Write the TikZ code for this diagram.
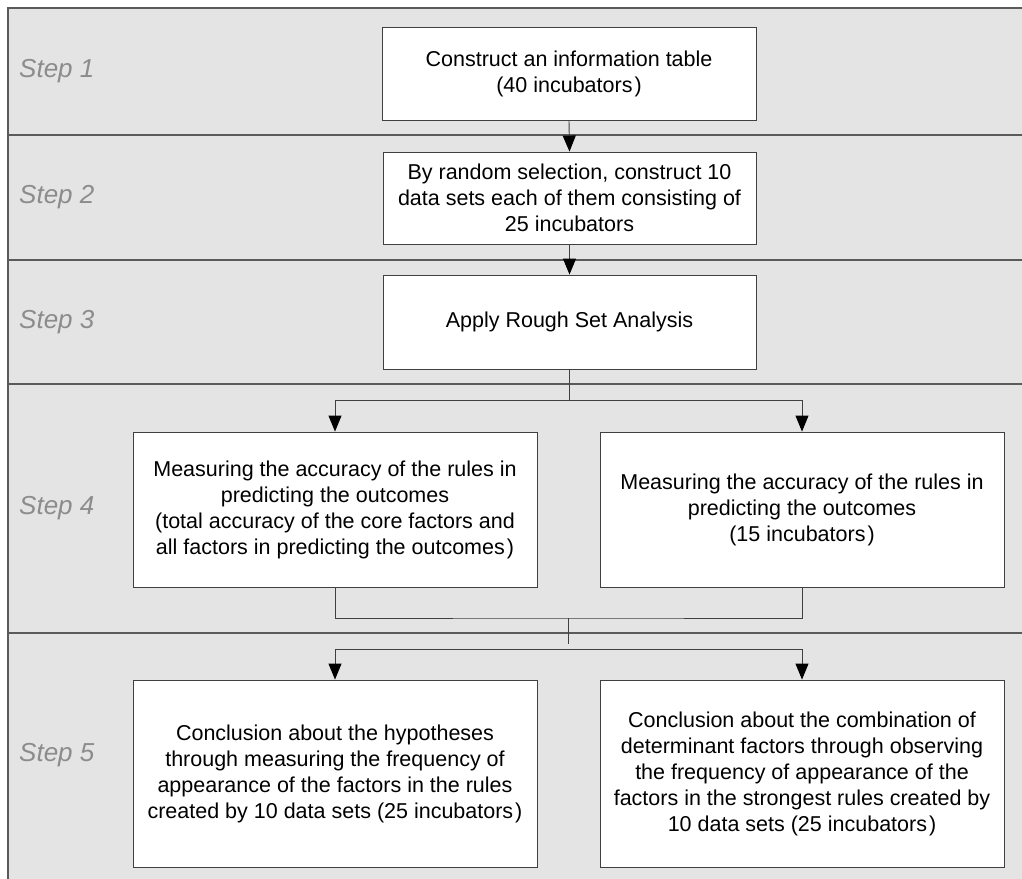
\documentclass[tikz,border=0pt]{standalone}
\usepackage{fontspec}
\setmainfont{Liberation Sans}
\usetikzlibrary{arrows.meta}
\definecolor{bandfill}{HTML}{E4E4E4}
\definecolor{linecol}{HTML}{404040}
\definecolor{framecol}{HTML}{5A5A5A}
\definecolor{stepcol}{HTML}{8C8C8C}
\tikzset{
  boxnode/.style={draw=linecol, line width=0.9pt, fill=white, align=center, inner sep=0pt,
    font=\fontsize{21.5}{26}\selectfont, text=black},
  steplbl/.style={anchor=west, inner sep=0pt, text=stepcol, font=\fontsize{26}{30}\selectfont\itshape},
  conn/.style={draw=linecol, line width=0.9pt},
  arr/.style={conn, -{Triangle[length=16pt,width=13pt,color=black,fill=black]}},
  divider/.style={draw=framecol, line width=1.2pt}
}
\begin{document}
\begin{tikzpicture}[x=1pt,y=-1pt]
\useasboundingbox (0,0) rectangle (1022,878);
\clip (0,0) rectangle (1022,878);
% bands
\fill[bandfill] (8,8) rectangle (1040,900);
\draw[divider] (1040,8) -- (8,8) -- (8,900);
\draw[divider] (8,135) -- (1040,135);
\draw[divider] (8,260) -- (1040,260);
\draw[divider] (8,384) -- (1040,384);
\draw[divider] (8,633) -- (1040,633);
% step labels
\node[steplbl] (s1) at (19,71.5) {Step 1};
\node[steplbl] (s2) at (19,197.5) {Step 2};
\node[steplbl] (s3) at (19,322) {Step 3};
\node[steplbl] (s4) at (19,508.5) {Step 4};
\node[steplbl] (s5) at (19,755.5) {Step 5};
% boxes
\node[boxnode, minimum width=374pt, minimum height=93pt] (b1) at (569,73.5)
  {Construct an information table\\(40 incubators\kern2pt)};
\node[boxnode, minimum width=373pt, minimum height=92pt] (b2) at (569.5,198)
  {By random selection, construct 10\\data sets each of them consisting of\\25 incubators};
\node[boxnode, minimum width=373pt, minimum height=94pt] (b3) at (569.5,322)
  {Apply Rough Set Analysis};
\node[boxnode, minimum width=404pt, minimum height=155pt] (b4l) at (335,509.5)
  {Measuring the accuracy of the rules in\\predicting the outcomes\\(total accuracy of the core factors and\\all factors in predicting the outcomes\kern2pt)};
\node[boxnode, minimum width=404pt, minimum height=155pt] (b4r) at (802,509.5)
  {Measuring the accuracy of the rules in\\predicting the outcomes\\(15 incubators\kern2pt)};
\node[boxnode, minimum width=404pt, minimum height=187pt] (b5l) at (335,773.5)
  {Conclusion about the hypotheses\\through measuring the frequency of\\appearance of the factors in the rules\\created by 10 data sets (25 incubators\kern2pt)};
\node[boxnode, minimum width=404pt, minimum height=187pt] (b5r) at (802,773.5)
  {Conclusion about the combination of\\determinant factors through observing\\the frequency of appearance of the\\factors in the strongest rules created by\\10 data sets (25 incubators\kern2pt)};
% junction coordinates
\coordinate (j1) at (569.5,400);
\coordinate (j2) at (568,618);
\coordinate (j3) at (568,644);
\coordinate (j4) at (568,649);
% connectors
\draw[arr] (b1.south) -- (b2.north);
\draw[arr] (b2.south) -- (b3.north);
\draw[conn] (b3.south) -- (j1);
\draw[arr] (j1) -| (b4l.north);
\draw[arr] (j1) -| (b4r.north);
\draw[conn] (b4l.south) |- (j2) -| (b4r.south);
\draw[conn] (j2) -- (j3);
\draw[arr] (j4) -| (b5l.north);
\draw[arr] (j4) -| (b5r.north);
\end{tikzpicture}
\end{document}
